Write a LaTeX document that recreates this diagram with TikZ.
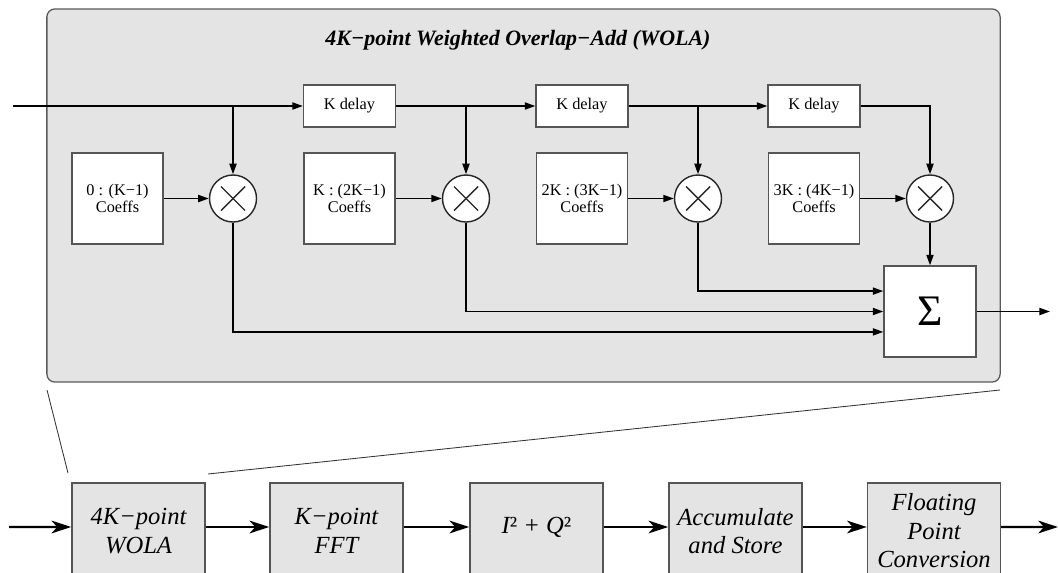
\documentclass[tikz,border=0pt]{standalone}
\usepackage{fontspec}
\setmainfont{Liberation Serif}
\usetikzlibrary{arrows.meta,calc}
\definecolor{panelfill}{HTML}{E4E4E4}
\definecolor{panelline}{HTML}{5A5A5A}
\definecolor{boxline}{HTML}{555555}
\tikzset{
  smallfont/.style={font=\fontsize{11.6}{12.4}\selectfont},
  delaybox/.style={draw=boxline, line width=0.9pt, fill=white, minimum width=2.3cm, minimum height=1.05cm, inner sep=0pt, smallfont},
  coefbox/.style={draw=boxline, line width=0.9pt, fill=white, minimum width=2.275cm, minimum height=2.275cm, inner sep=0pt, align=center, smallfont},
  mult/.style={draw=black!85, line width=1pt, fill=white, circle, minimum size=1.175cm, inner sep=0pt,
    path picture={\draw[line width=1pt] ($(path picture bounding box.center)+(-0.3cm,-0.3cm)$) -- ($(path picture bounding box.center)+(0.3cm,0.3cm)$);
                  \draw[line width=1pt] ($(path picture bounding box.center)+(-0.3cm,0.3cm)$) -- ($(path picture bounding box.center)+(0.3cm,-0.3cm)$);}},
  sumbox/.style={draw=boxline, line width=0.9pt, fill=white, minimum width=2.3cm, minimum height=2.275cm, inner sep=0pt, font=\fontsize{31}{31}\selectfont},
  stagefont/.style={font=\itshape\fontsize{17.5}{20.3}\selectfont},
  stagebox/.style={draw=boxline, line width=1pt, fill=panelfill, minimum width=3.325cm, minimum height=2.4cm, inner sep=0pt, align=center, stagefont},
  sig/.style={line width=1.25pt, -{Triangle[length=7.5pt,width=5pt]}},
  bigarrow/.style={line width=1.7pt, -{Stealth[length=14pt,width=9pt,inset=4pt]}},
  zoomline/.style={line width=0.6pt, draw=black!80},
}
\begin{document}
\begin{tikzpicture}[x=0.025cm, y=-0.025cm]
\useasboundingbox (0,0) rectangle (1058,572);
% panel
\node[draw=panelline, line width=0.9pt, fill=panelfill, rounded corners=0.2cm, minimum width=23.825cm, minimum height=9.325cm, inner sep=0pt] (panel) at (523.5,195.5) {};
\node[font=\bfseries\itshape\fontsize{15.6}{18}\selectfont] (title) at (518,40) {4K−point Weighted Overlap−Add (WOLA)};
% delays
\node[delaybox] (d1) at (349.5,106) {K delay};
\node[delaybox] (d2) at (582,106) {K delay};
\node[delaybox] (d3) at (814,106) {K delay};
% coefficient boxes
\node[coefbox] (c1) at (117.5,198.5) {0 : (K−1)\\Coeffs};
\node[coefbox] (c2) at (349.5,198.5) {K : (2K−1)\\Coeffs};
\node[coefbox] (c3) at (582,198.5) {2K : (3K−1)\\Coeffs};
\node[coefbox] (c4) at (814,198.5) {3K : (4K−1)\\Coeffs};
% multipliers
\node[mult] (m1) at (233,198.5) {};
\node[mult] (m2) at (466,198.5) {};
\node[mult] (m3) at (698,198.5) {};
\node[mult] (m4) at (930,198.5) {};
% sum
\node[sumbox] (sum) at (930,311.5) {Σ};
% coordinates
\coordinate (in1) at (13,106);
\coordinate (out1) at (1050,311.5);
% delay chain
\draw[sig] (in1) -- (d1.west);
\draw[sig] (d1.east) -- (d2.west);
\draw[sig] (d2.east) -- (d3.west);
\draw[sig] (d3.east) -| (m4.north);
\draw[sig] (m1 |- in1) -- (m1.north);
\draw[sig] (m2 |- d1.east) -- (m2.north);
\draw[sig] (m3 |- d2.east) -- (m3.north);
% coeffs into multipliers
\draw[sig] (c1.east) -- (m1.west);
\draw[sig] (c2.east) -- (m2.west);
\draw[sig] (c3.east) -- (m3.west);
\draw[sig] (c4.east) -- (m4.west);
% products into sum
\draw[sig] (m4.south) -- (sum.north);
\draw[sig] (m3.south) |- ([yshift=0.51cm]sum.west);
\draw[sig] (m2.south) |- (sum.west);
\draw[sig] (m1.south) |- ([yshift=-0.51cm]sum.west);
\draw[sig] (sum.east) -- (out1);
% bottom chain
\node[stagebox] (b1) at (138.5,531) {4K−point\\WOLA};
\node[stagebox] (b2) at (336.5,531) {K−point\\FFT};
\node[stagebox] (b3) at (536.5,531) {};
\node[stagefont] (b3t) at (536.5,527) {I{\upshape ²} + Q{\upshape ²}};
\node[stagebox] (b4) at (735.5,531) {Accumulate\\and Store};
\node[stagebox] (b5) at (934,531) {Floating\\Point\\Conversion};
\coordinate (in2) at (9,527);
\coordinate (out2) at (1058,527);
\draw[bigarrow] (in2) -- ([yshift=0.1cm]b1.west);
\draw[bigarrow] ([yshift=0.1cm]b1.east) -- ([yshift=0.1cm]b2.west);
\draw[bigarrow] ([yshift=0.1cm]b2.east) -- ([yshift=0.1cm]b3.west);
\draw[bigarrow] ([yshift=0.1cm]b3.east) -- ([yshift=0.1cm]b4.west);
\draw[bigarrow] ([yshift=0.1cm]b4.east) -- ([yshift=0.1cm]b5.west);
\draw[bigarrow] ([yshift=0.1cm]b5.east) -- (out2);
% zoom lines
\coordinate (z1) at (47,390);
\coordinate (z2) at (68,473);
\coordinate (z3) at (208,474);
\coordinate (z4) at (1000,390);
\draw[zoomline] (z1) -- (z2);
\draw[zoomline] (z3) -- (z4);
\end{tikzpicture}
\end{document}
